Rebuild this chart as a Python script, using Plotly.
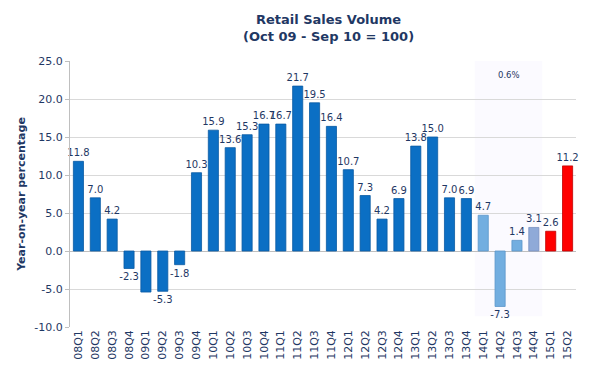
import plotly.graph_objects as go

categories = ["08Q1","08Q2","08Q3","08Q4","09Q1","09Q2","09Q3","09Q4",
              "10Q1","10Q2","10Q3","10Q4","11Q1","11Q2","11Q3","11Q4",
              "12Q1","12Q2","12Q3","12Q4","13Q1","13Q2","13Q3","13Q4",
              "14Q1","14Q2","14Q3","14Q4","15Q1","15Q2"]
values = [11.8, 7.0, 4.2, -2.3, -5.4, -5.3, -1.8, 10.3,
          15.9, 13.6, 15.3, 16.7, 16.7, 21.7, 19.5, 16.4,
          10.7, 7.3, 4.2, 6.9, 13.8, 15.0, 7.0, 6.9,
          4.7, -7.3, 1.4, 3.1, 2.6, 11.2]
labels = ["11.8","7.0","4.2","-2.3","","-5.3","-1.8","10.3",
          "15.9","13.6","15.3","16.7","16.7","21.7","19.5","16.4",
          "10.7","7.3","4.2","6.9","13.8","15.0","7.0","6.9",
          "4.7","-7.3","1.4","3.1","2.6","11.2"]
bar_colors = ["#0b6fc4"] * 24 + ["#72aee0", "#72aee0", "#72aee0", "#8faad8", "#ff0000", "#ff0000"]
line_colors = ["#0a5ba3"] * 24 + ["#5b96c9", "#5b96c9", "#5b96c9", "#7890c0", "#c00000", "#c00000"]
y_ticks = [-10, -5, 0, 5, 10, 15, 20, 25]
y_ticktext = ["-10.0", "-5.0", "0.0", "5.0", "10.0", "15.0", "20.0", "25.0"]
highlight_note = "0.6%"
title_text = "<b>Retail Sales Volume<br>(Oct 09 - Sep 10 = 100)</b>"

navy = "#1f3864"
font_family = "DejaVu Sans, Verdana, sans-serif"

fig = go.Figure()
fig.add_trace(go.Bar(
    x=categories, y=values, text=labels, textposition="outside",
    constraintext="none",
    textfont=dict(size=10, color=navy, family=font_family),
    marker=dict(color=bar_colors, line=dict(color=line_colors, width=0.8)),
    cliponaxis=False,
))

fig.add_shape(type="rect", xref="x", yref="y", x0=23.5, x1=27.5, y0=-8.6, y1=25,
              fillcolor="#fbfaff", line=dict(width=0), layer="below")
fig.add_annotation(x=25.5, y=23.2, xref="x", yref="y", text=highlight_note, showarrow=False,
                   font=dict(size=8.5, color=navy, family=font_family))
fig.add_annotation(x=0.51, y=1.125, xref="paper", yref="paper", text=title_text,
                   showarrow=False, xanchor="center", yanchor="middle",
                   font=dict(size=13, color=navy, family=font_family))

fig.update_layout(
    width=600, height=377,
    margin=dict(l=62, r=32, t=53, b=58),
    paper_bgcolor="white", plot_bgcolor="white",
    bargap=0.4,
    showlegend=False,
    uniformtext=dict(mode=False),
    font=dict(family=font_family, color=navy),
)
fig.update_yaxes(range=[-10, 25], tickvals=y_ticks, ticktext=y_ticktext,
                 showgrid=True, gridcolor="#d9d9d9", gridwidth=1,
                 zeroline=True, zerolinecolor="#bfbfbf", zerolinewidth=1,
                 showline=True, linecolor="#bfbfbf", linewidth=1,
                 ticks="outside", ticklen=4, tickcolor="#bfbfbf",
                 tickfont=dict(size=11, color=navy, family=font_family),
                 title=dict(text="<b>Year-on-year percentage</b>", standoff=6,
                            font=dict(size=11, color=navy, family=font_family)))
fig.update_xaxes(tickangle=-90, showgrid=False, showline=False,
                 tickfont=dict(size=11, color=navy, family=font_family),
                 ticks="", range=[-0.5, 29.5])

fig.write_html("out.html")
